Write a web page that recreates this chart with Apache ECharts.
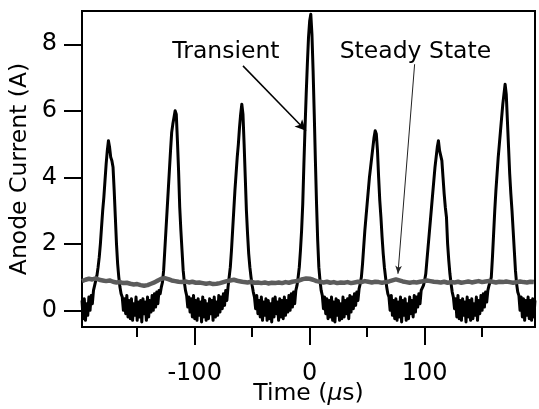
<!DOCTYPE html>
<html><head><meta charset="utf-8">
<script src="https://cdn.jsdelivr.net/npm/echarts@6/dist/echarts.min.js"></script>
<style>html,body{margin:0;padding:0;background:#fff}#c{width:539px;height:409px}</style>
</head><body><div id="c"></div>
<script>
// Sampling grid of the transient trace (µs)
const transientStart = -198;
const transientStep = 1;
// Transient anode current (A), one value per µs from -198 µs
const transientCurrent = [
  0.30,-0.25,0.35,-0.30,0.20,-0.15,0.40,0.00,0.45,0.20,0.60,0.75,
  0.90,1.05,1.30,1.60,2.00,2.50,3.00,3.40,3.90,4.40,4.80,5.10,4.90,4.60,4.50,4.30,3.60,2.80,2.00,1.40,1.00,0.70,0.50,
  0.40,0.00,0.35,-0.10,0.45,-0.20,0.30,-0.25,0.35,-0.30,0.20,-0.15,0.40,-0.30,0.25,-0.20,0.30,-0.35,0.35,-0.10,0.25,-0.30,0.40,-0.20,0.30,-0.05,0.45,0.00,0.50,0.10,0.55,0.20,0.60,0.50,
  0.70,0.85,1.20,1.80,2.40,3.00,3.60,4.20,4.80,5.35,5.60,5.80,6.00,5.90,5.10,4.20,3.10,2.40,1.80,1.20,0.85,0.60,
  0.45,0.10,0.40,-0.05,0.35,-0.20,0.45,-0.25,0.30,-0.30,0.35,-0.15,0.25,-0.35,0.40,-0.20,0.30,-0.30,0.20,-0.25,0.35,-0.10,0.30,-0.30,0.40,-0.20,0.25,-0.15,0.45,-0.05,0.40,0.05,0.50,0.15,0.60,0.30,0.70,
  1.00,1.30,1.80,2.40,3.00,3.60,4.10,4.60,5.00,5.50,5.90,6.20,5.90,5.00,4.00,3.00,2.30,1.70,1.30,1.00,0.75,0.55,
  0.40,0.05,0.45,-0.10,0.30,-0.20,0.40,-0.30,0.25,-0.15,0.35,-0.30,0.30,-0.25,0.20,-0.35,0.35,-0.20,0.40,-0.10,0.25,-0.30,0.35,-0.20,0.30,-0.25,0.40,-0.15,0.30,-0.05,0.45,0.00,0.50,0.10,0.55,0.20,0.60,0.75,
  1.00,1.30,1.80,2.40,3.20,4.40,5.50,6.50,7.40,8.20,8.70,8.90,8.30,7.20,5.90,4.50,3.20,2.10,1.30,0.90,0.60,
  0.45,0.05,0.40,-0.10,0.35,-0.25,0.30,-0.20,0.40,-0.30,0.25,-0.35,0.35,-0.15,0.30,-0.30,0.20,-0.25,0.40,-0.20,0.30,-0.10,0.35,-0.25,0.45,-0.05,0.40,0.05,0.50,0.15,0.55,0.30,0.65,
  0.80,1.00,1.40,1.90,2.40,2.80,3.20,3.60,4.00,4.30,4.60,4.90,5.20,5.40,5.30,4.80,4.00,3.30,2.80,2.20,1.70,1.30,1.00,0.70,0.50,
  0.40,0.00,0.45,-0.15,0.30,-0.25,0.35,-0.30,0.25,-0.20,0.40,-0.35,0.30,-0.15,0.35,-0.30,0.20,-0.25,0.40,-0.10,0.30,-0.20,0.45,-0.05,0.40,0.10,0.50,0.20,0.60,0.65,
  0.75,0.90,1.10,1.50,1.90,2.30,2.70,3.10,3.50,3.90,4.30,4.60,4.90,5.10,4.80,4.65,4.50,4.00,3.50,3.10,2.80,2.00,1.50,1.10,0.80,0.55,
  0.40,0.05,0.35,-0.20,0.45,-0.25,0.30,-0.30,0.35,-0.15,0.25,-0.35,0.40,-0.20,0.30,-0.30,0.35,-0.25,0.20,-0.15,0.40,-0.30,0.30,-0.10,0.45,0.00,0.50,0.10,0.55,0.25,0.60,
  0.75,0.85,1.00,1.60,2.30,3.00,3.60,4.10,4.60,5.00,5.40,5.80,6.20,6.50,6.80,6.50,5.70,4.90,4.10,3.50,3.00,2.40,1.80,1.20,0.80,0.55,
  0.45,0.00,0.40,-0.20,0.35,-0.30,0.30,-0.15,0.40,-0.25,0.30,-0.30,0.35,-0.20,0.30
];
// Sampling grid of the steady-state trace (µs)
const steadyStart = -198;
const steadyStep = 3;
// Steady-state anode current (A), one value every 3 µs from -198 µs
const steadyCurrent = [
  0.88,0.92,0.95,0.93,0.96,0.92,0.90,0.88,0.90,0.86,
  0.84,0.85,0.82,0.83,0.80,0.78,0.79,0.76,0.74,0.76,
  0.80,0.84,0.90,0.95,0.97,0.94,0.90,0.88,0.86,0.85,
  0.87,0.84,0.86,0.83,0.84,0.82,0.80,0.82,0.79,0.80,
  0.82,0.85,0.88,0.90,0.92,0.89,0.87,0.85,0.84,0.86,
  0.83,0.84,0.82,0.84,0.81,0.83,0.82,0.84,0.82,0.85,
  0.83,0.86,0.88,0.90,0.94,0.96,0.95,0.92,0.88,0.86,
  0.84,0.86,0.83,0.85,0.82,0.84,0.83,0.85,0.82,0.84,
  0.86,0.85,0.88,0.86,0.84,0.86,0.85,0.83,0.85,0.87,
  0.90,0.93,0.90,0.87,0.85,0.83,0.85,0.84,0.86,0.88,
  0.90,0.88,0.86,0.85,0.84,0.86,0.83,0.85,0.84,0.86,
  0.83,0.85,0.87,0.84,0.86,0.88,0.85,0.87,0.88,0.86,
  0.84,0.86,0.85,0.87,0.85,0.83,0.85,0.87,0.85,0.84,
  0.86,0.85
];
const xLabelTicks = [-100, 0, 100];
const xMinorTicks = [-150, -50, 50, 150];
const yLabelTicks = [0, 2, 4, 6, 8];
const xRange = [-198, 196];
const yRange = [-0.5, 9];
// Annotation texts and arrows in data units [time, current]
const annotationTexts = ['Transient', 'Steady State'];
const annotationTextAt = [[-72.8, 7.78], [92, 7.78]];
const arrowFrom = [[-58, 7.35], [91.3, 7.4]];
const arrowTo = [[-3.2, 5.4], [76.8, 1.1]];

const FONT = 'DejaVu Sans';
const transientData = transientCurrent.map((v, i) => [transientStart + i * transientStep, v]);
const steadyData = steadyCurrent.map((v, i) => [steadyStart + i * steadyStep, v]);

const chart = echarts.init(document.getElementById('c'), null, {renderer: 'canvas'});
chart.setOption({
  animation: false,
  backgroundColor: '#fff',
  grid: {left: 82, right: 4, top: 11, bottom: 82, containLabel: false, outerBoundsMode: 'none',
         show: true, borderColor: '#000', borderWidth: 2, backgroundColor: 'transparent'},
  xAxis: [{
    type: 'value', min: xRange[0], max: xRange[1], position: 'bottom',
    axisLine: {show: true, onZero: false, lineStyle: {color: '#000', width: 2}},
    axisTick: {show: true, length: 18, customValues: xLabelTicks, lineStyle: {color: '#000', width: 2}},
    axisLabel: {show: true, customValues: xLabelTicks, fontSize: 24, margin: 35, color: '#000', fontFamily: FONT},
    splitLine: {show: false},
    name: 'Time ({i|μ}s)', nameLocation: 'middle', nameGap: 55, nameMoveOverlap: false,
    nameTextStyle: {fontSize: 23.5, color: '#000', fontFamily: FONT, rich: {i: {fontSize: 23.5, fontStyle: 'italic', fontFamily: FONT, color: '#000'}}}
  }, {
    type: 'value', min: xRange[0], max: xRange[1], position: 'bottom',
    axisLine: {show: false, onZero: false},
    axisTick: {show: true, length: 10, customValues: xMinorTicks, lineStyle: {color: '#000', width: 2}},
    axisLabel: {show: false},
    splitLine: {show: false}
  }],
  yAxis: {
    type: 'value', min: yRange[0], max: yRange[1],
    axisLine: {show: true, onZero: false, lineStyle: {color: '#000', width: 2}},
    axisTick: {show: true, length: 18, customValues: yLabelTicks, lineStyle: {color: '#000', width: 2}},
    axisLabel: {show: true, customValues: yLabelTicks, fontSize: 24, margin: 25, color: '#000', fontFamily: FONT},
    splitLine: {show: false},
    name: 'Anode Current (A)', nameLocation: 'middle', nameGap: 50, nameRotate: 90, nameMoveOverlap: false,
    nameTextStyle: {fontSize: 23.5, color: '#000', fontFamily: FONT}
  },
  series: [{
    type: 'line', name: 'Transient', data: transientData, xAxisIndex: 0,
    showSymbol: false, symbol: 'none', clip: true,
    lineStyle: {color: '#000', width: 3, join: 'round'},
    markLine: {
      silent: true, animation: false,
      label: {show: false},
      data: [
        [{coord: arrowFrom[0], symbol: 'none', lineStyle: {color: '#000', width: 1.5}}, {coord: arrowTo[0], symbol: 'arrow', symbolSize: [8, 11]}],
        [{coord: arrowFrom[1], symbol: 'none', lineStyle: {color: '#222', width: 1}}, {coord: arrowTo[1], symbol: 'arrow', symbolSize: [5, 8]}]
      ],
      lineStyle: {type: 'solid', color: '#000'}
    },
    markPoint: {
      silent: true, animation: false,
      symbol: 'circle', symbolSize: 0,
      label: {show: true, position: 'inside', fontSize: 23.5, color: '#000', fontFamily: FONT, formatter: p => p.name},
      data: annotationTexts.map((t, i) => ({name: t, coord: annotationTextAt[i]}))
    }
  }, {
    type: 'line', name: 'Steady State', data: steadyData, xAxisIndex: 0,
    showSymbol: false, symbol: 'none', clip: true,
    lineStyle: {color: '#5c5c5c', width: 4.5, join: 'round'}
  }]
});
</script>
</body></html>
